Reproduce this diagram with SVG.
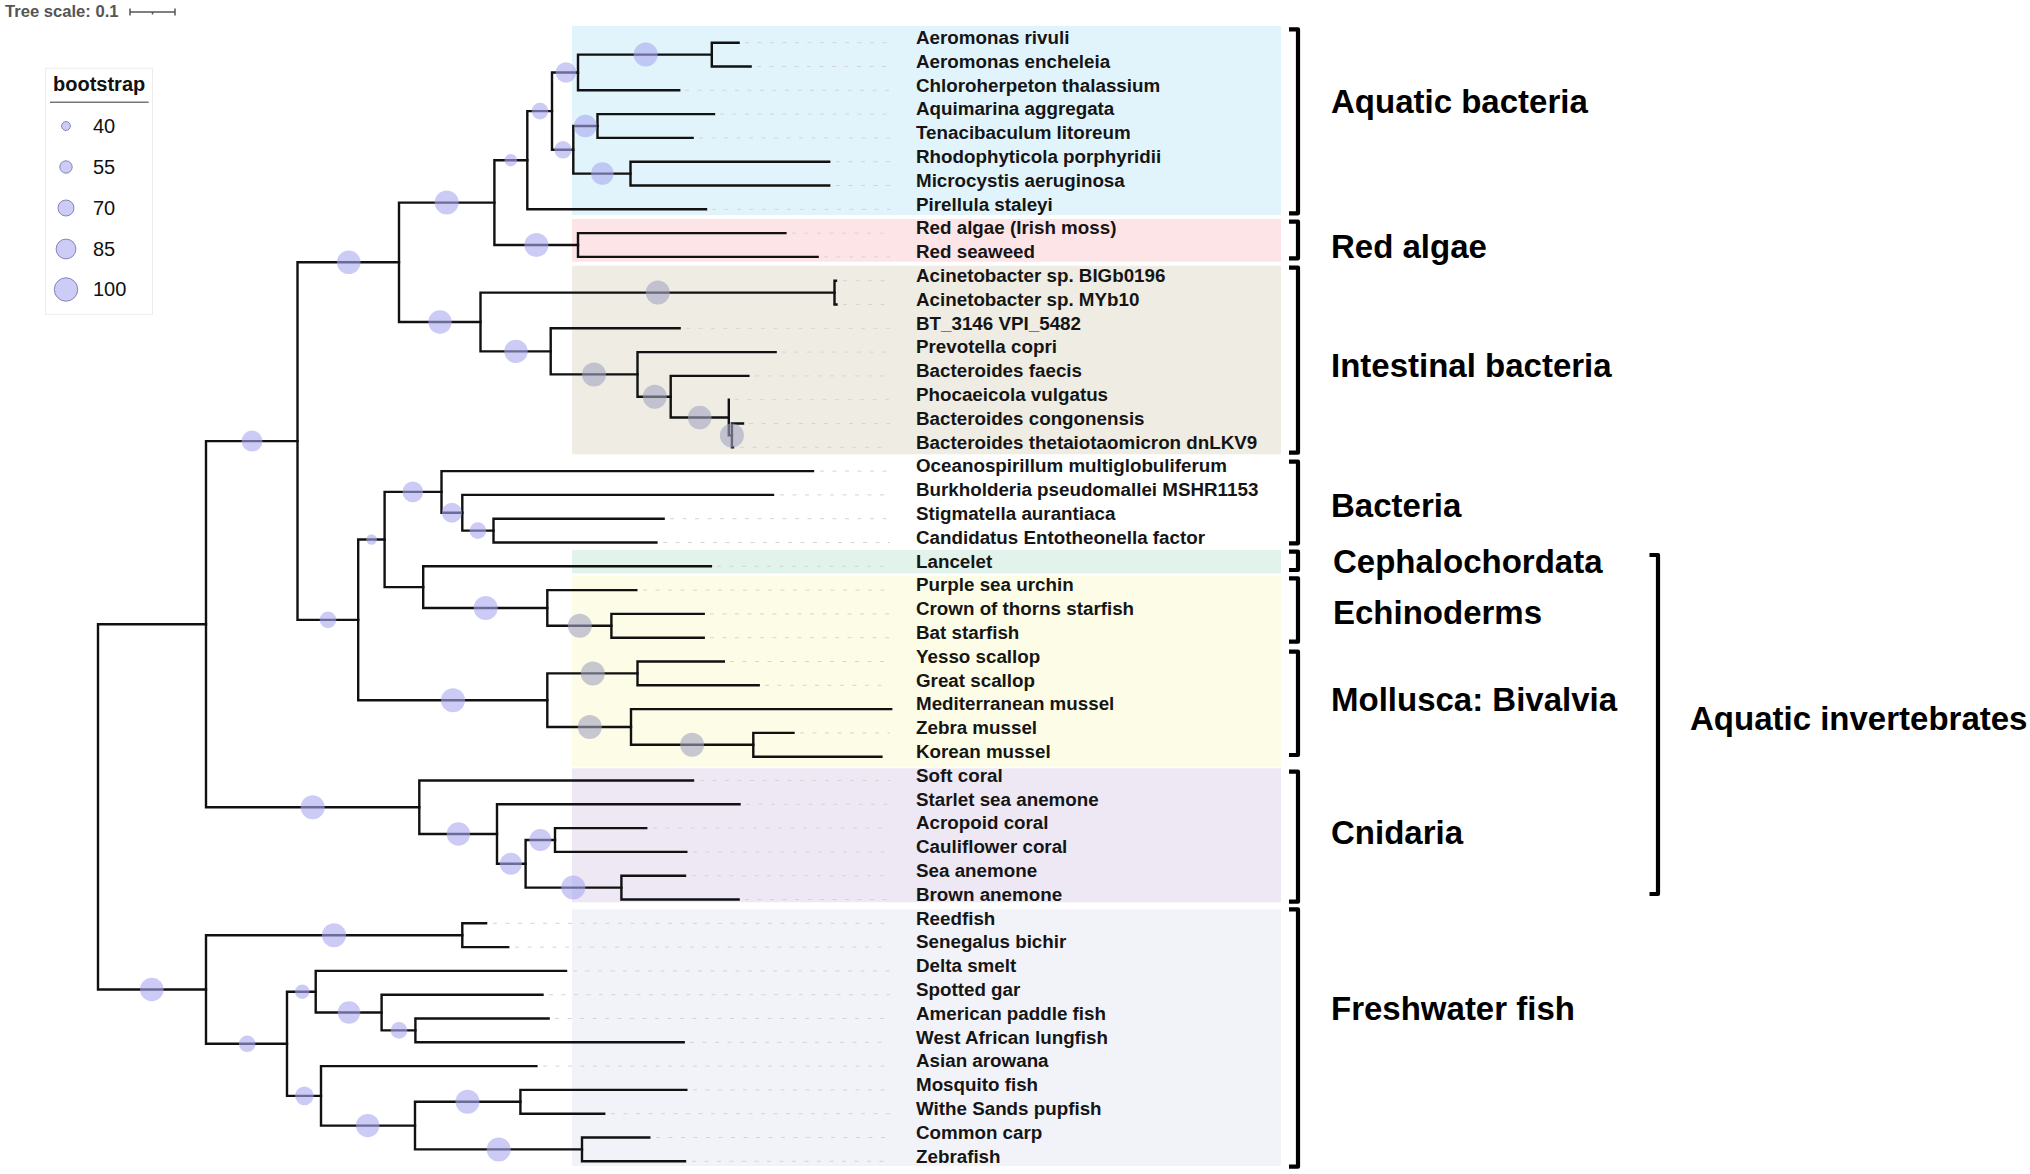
<svg xmlns="http://www.w3.org/2000/svg" width="2030" height="1174" viewBox="0 0 2030 1174">
<style>
text{font-family:"Liberation Sans",Arial,sans-serif}
.lf{font-size:18.8px;font-weight:bold;fill:#151515;transform:translate(0px,-1.2px)}
.gl{font-size:33px;font-weight:bold;fill:#000}
.gd{stroke:#d4d4d4;stroke-width:1;stroke-dasharray:4 8.5;fill:none}
.br{fill:none;stroke:#111;stroke-width:2.4;stroke-linecap:square}
.bk{fill:none;stroke:#000;stroke-width:4.2;stroke-linejoin:round}
.bb{fill:#a8a8f0;fill-opacity:.6}
.bg{fill:#a4a4c2;fill-opacity:.6}
.lc{fill:#ccccf6;stroke:#7a7aae;stroke-width:.9}
.lt{font-size:20px;fill:#111}
</style>
<rect width="2030" height="1174" fill="#fff"/>
<g id="header">
<text x="5" y="16.5" font-size="16.6" font-weight="bold" fill="#555">Tree scale: 0.1</text>
<path d="M130 12H175M130 8.5V15.5M175 8.5V15.5M152.5 12V14.5" stroke="#555" stroke-width="1.5" fill="none"/>
</g>
<g id="legend">
<rect x="45.5" y="68.3" width="107" height="246" fill="#fff" stroke="#ececec" stroke-width="1"/>
<text x="53" y="90.7" font-size="20" font-weight="bold" fill="#111">bootstrap</text>
<line x1="50" y1="102.3" x2="148.7" y2="102.3" stroke="#777" stroke-width="1.4"/>
<circle class="lc" cx="66" cy="126" r="4.4"/><text class="lt" x="93" y="132.5">40</text>
<circle class="lc" cx="66" cy="167" r="6.2"/><text class="lt" x="93" y="173.5">55</text>
<circle class="lc" cx="66" cy="208" r="8"/><text class="lt" x="93" y="214.5">70</text>
<circle class="lc" cx="66" cy="249" r="9.9"/><text class="lt" x="93" y="255.5">85</text>
<circle class="lc" cx="66" cy="289.5" r="11.7"/><text class="lt" x="93" y="296">100</text>
</g>
<g id="bands">
<rect x="572" y="26" width="709" height="189" fill="#e1f4fb"/>
<rect x="572" y="219" width="709" height="42.7" fill="#fde4e6"/>
<rect x="572" y="265.7" width="709" height="188.6" fill="#efede3"/>
<rect x="572" y="550" width="709" height="23.3" fill="#e1f3ea"/>
<rect x="572" y="575.7" width="709" height="191" fill="#fdfde7"/>
<rect x="572" y="768.3" width="709" height="134" fill="#ede8f4"/>
<rect x="572" y="909.3" width="709" height="256.7" fill="#f2f3f9"/>
</g>
<g id="leaves">
<g id="leaf-0"><line class="gd" x1="745" y1="42.7" x2="890" y2="42.7"/><text class="lf" x="916" y="45.2">Aeromonas rivuli</text></g>
<g id="leaf-1"><line class="gd" x1="757" y1="66.5" x2="890" y2="66.5"/><text class="lf" x="916" y="69">Aeromonas encheleia</text></g>
<g id="leaf-2"><line class="gd" x1="685" y1="90.3" x2="890" y2="90.3"/><text class="lf" x="916" y="92.8">Chloroherpeton thalassium</text></g>
<g id="leaf-3"><line class="gd" x1="720" y1="114.1" x2="890" y2="114.1"/><text class="lf" x="916" y="116.6">Aquimarina aggregata</text></g>
<g id="leaf-4"><line class="gd" x1="699" y1="137.9" x2="890" y2="137.9"/><text class="lf" x="916" y="140.4">Tenacibaculum litoreum</text></g>
<g id="leaf-5"><line class="gd" x1="836" y1="161.7" x2="890" y2="161.7"/><text class="lf" x="916" y="164.2">Rhodophyticola porphyridii</text></g>
<g id="leaf-6"><line class="gd" x1="836" y1="185.5" x2="890" y2="185.5"/><text class="lf" x="916" y="188">Microcystis aeruginosa</text></g>
<g id="leaf-7"><line class="gd" x1="712" y1="209.3" x2="890" y2="209.3"/><text class="lf" x="916" y="211.8">Pirellula staleyi</text></g>
<g id="leaf-8"><line class="gd" x1="792" y1="233.1" x2="890" y2="233.1"/><text class="lf" x="916" y="235.6">Red algae (Irish moss)</text></g>
<g id="leaf-9"><line class="gd" x1="824" y1="256.9" x2="890" y2="256.9"/><text class="lf" x="916" y="259.4">Red seaweed</text></g>
<g id="leaf-10"><line class="gd" x1="843" y1="280.7" x2="890" y2="280.7"/><text class="lf" x="916" y="283.2">Acinetobacter sp. BIGb0196</text></g>
<g id="leaf-11"><line class="gd" x1="843" y1="304.5" x2="890" y2="304.5"/><text class="lf" x="916" y="307">Acinetobacter sp. MYb10</text></g>
<g id="leaf-12"><line class="gd" x1="686" y1="328.3" x2="890" y2="328.3"/><text class="lf" x="916" y="330.8">BT_3146 VPI_5482</text></g>
<g id="leaf-13"><line class="gd" x1="782" y1="352.1" x2="890" y2="352.1"/><text class="lf" x="916" y="354.6">Prevotella copri</text></g>
<g id="leaf-14"><line class="gd" x1="755" y1="375.9" x2="890" y2="375.9"/><text class="lf" x="916" y="378.4">Bacteroides faecis</text></g>
<g id="leaf-15"><line class="gd" x1="735" y1="399.7" x2="890" y2="399.7"/><text class="lf" x="916" y="402.2">Phocaeicola vulgatus</text></g>
<g id="leaf-16"><line class="gd" x1="749" y1="423.5" x2="890" y2="423.5"/><text class="lf" x="916" y="426">Bacteroides congonensis</text></g>
<g id="leaf-17"><line class="gd" x1="740" y1="447.3" x2="890" y2="447.3"/><text class="lf" x="916" y="449.8">Bacteroides thetaiotaomicron dnLKV9</text></g>
<g id="leaf-18"><line class="gd" x1="820" y1="471.1" x2="890" y2="471.1"/><text class="lf" x="916" y="473.6">Oceanospirillum multiglobuliferum</text></g>
<g id="leaf-19"><line class="gd" x1="780" y1="494.9" x2="890" y2="494.9"/><text class="lf" x="916" y="497.4">Burkholderia pseudomallei MSHR1153</text></g>
<g id="leaf-20"><line class="gd" x1="670" y1="518.7" x2="890" y2="518.7"/><text class="lf" x="916" y="521.2">Stigmatella aurantiaca</text></g>
<g id="leaf-21"><line class="gd" x1="663" y1="542.5" x2="890" y2="542.5"/><text class="lf" x="916" y="545">Candidatus Entotheonella factor</text></g>
<g id="leaf-22"><line class="gd" x1="717" y1="566.3" x2="890" y2="566.3"/><text class="lf" x="916" y="568.8">Lancelet</text></g>
<g id="leaf-23"><line class="gd" x1="643" y1="590.1" x2="890" y2="590.1"/><text class="lf" x="916" y="592.6">Purple sea urchin</text></g>
<g id="leaf-24"><line class="gd" x1="710" y1="613.9" x2="890" y2="613.9"/><text class="lf" x="916" y="616.4">Crown of thorns starfish</text></g>
<g id="leaf-25"><line class="gd" x1="710" y1="637.7" x2="890" y2="637.7"/><text class="lf" x="916" y="640.2">Bat starfish</text></g>
<g id="leaf-26"><line class="gd" x1="730" y1="661.5" x2="890" y2="661.5"/><text class="lf" x="916" y="664">Yesso scallop</text></g>
<g id="leaf-27"><line class="gd" x1="765" y1="685.3" x2="890" y2="685.3"/><text class="lf" x="916" y="687.8">Great scallop</text></g>
<g id="leaf-28"><text class="lf" x="916" y="711.6">Mediterranean mussel</text></g>
<g id="leaf-29"><line class="gd" x1="800" y1="732.9" x2="890" y2="732.9"/><text class="lf" x="916" y="735.4">Zebra mussel</text></g>
<g id="leaf-30"><text class="lf" x="916" y="759.2">Korean mussel</text></g>
<g id="leaf-31"><line class="gd" x1="700" y1="780.5" x2="890" y2="780.5"/><text class="lf" x="916" y="783">Soft coral</text></g>
<g id="leaf-32"><line class="gd" x1="746" y1="804.3" x2="890" y2="804.3"/><text class="lf" x="916" y="806.8">Starlet sea anemone</text></g>
<g id="leaf-33"><line class="gd" x1="653" y1="828.1" x2="890" y2="828.1"/><text class="lf" x="916" y="830.6">Acropoid coral</text></g>
<g id="leaf-34"><line class="gd" x1="693" y1="851.9" x2="890" y2="851.9"/><text class="lf" x="916" y="854.4">Cauliflower coral</text></g>
<g id="leaf-35"><line class="gd" x1="692" y1="875.7" x2="890" y2="875.7"/><text class="lf" x="916" y="878.2">Sea anemone</text></g>
<g id="leaf-36"><line class="gd" x1="745" y1="899.5" x2="890" y2="899.5"/><text class="lf" x="916" y="902">Brown anemone</text></g>
<g id="leaf-37"><line class="gd" x1="493" y1="923.3" x2="890" y2="923.3"/><text class="lf" x="916" y="925.8">Reedfish</text></g>
<g id="leaf-38"><line class="gd" x1="515" y1="947.1" x2="890" y2="947.1"/><text class="lf" x="916" y="949.6">Senegalus bichir</text></g>
<g id="leaf-39"><line class="gd" x1="573" y1="970.9" x2="890" y2="970.9"/><text class="lf" x="916" y="973.4">Delta smelt</text></g>
<g id="leaf-40"><line class="gd" x1="549" y1="994.7" x2="890" y2="994.7"/><text class="lf" x="916" y="997.2">Spotted gar</text></g>
<g id="leaf-41"><line class="gd" x1="555" y1="1018.5" x2="890" y2="1018.5"/><text class="lf" x="916" y="1021">American paddle fish</text></g>
<g id="leaf-42"><line class="gd" x1="690" y1="1042.3" x2="890" y2="1042.3"/><text class="lf" x="916" y="1044.8">West African lungfish</text></g>
<g id="leaf-43"><line class="gd" x1="543" y1="1066.1" x2="890" y2="1066.1"/><text class="lf" x="916" y="1068.6">Asian arowana</text></g>
<g id="leaf-44"><line class="gd" x1="693" y1="1089.9" x2="890" y2="1089.9"/><text class="lf" x="916" y="1092.4">Mosquito fish</text></g>
<g id="leaf-45"><line class="gd" x1="611" y1="1113.7" x2="890" y2="1113.7"/><text class="lf" x="916" y="1116.2">Withe Sands pupfish</text></g>
<g id="leaf-46"><line class="gd" x1="656" y1="1137.5" x2="890" y2="1137.5"/><text class="lf" x="916" y="1140">Common carp</text></g>
<g id="leaf-47"><line class="gd" x1="692" y1="1161.3" x2="890" y2="1161.3"/><text class="lf" x="916" y="1163.8">Zebrafish</text></g>
</g>
<g id="connectors" class="br">
<path d="M206 624.2H98V989.5H206"/>
<path d="M297.5 441.1H206V807.3H419.3"/>
<path d="M399 262.3H297.5V619.85H358.2"/>
<path d="M494.4 202.6H399V321.98H480.5"/>
<path d="M527.3 160.2H494.4V245H578"/>
<path d="M552 111.1H527.3V209.3H706"/>
<path d="M578 72.45H552V149.8H573.3"/>
<path d="M711.8 54.6H578V90.3H679.2"/>
<path d="M738.6 42.7H711.8V66.5H750.6"/>
<path d="M597.5 126H573.3V173.6H630.5"/>
<path d="M714 114.1H597.5V137.9H692.6"/>
<path d="M829.2 161.7H630.5V185.5H829.2"/>
<path d="M785.4 233.1H578V256.9H817.6"/>
<path d="M834.5 292.6H480.5V351.35H550.7"/>
<path d="M836 280.7H834.5V304.5H836.5"/>
<path d="M679.6 328.3H550.7V374.4H637.5"/>
<path d="M775.6 352.1H637.5V396.7H670.7"/>
<path d="M748.4 375.9H670.7V417.55H728.8"/>
<path d="M728.8 399.7V435.4H731.9"/>
<path d="M743 423.5H731.9V447.3H733"/>
<path d="M384.6 539.5H358.2V700.2H547.3"/>
<path d="M441.5 491.9H384.6V587.1H423.2"/>
<path d="M813 471.1H441.5V512.75H462.3"/>
<path d="M773 494.9H462.3V530.6H493.5"/>
<path d="M663.6 518.7H493.5V542.5H656.4"/>
<path d="M710.9 566.3H423.2V607.95H547.3"/>
<path d="M636.3 590.1H547.3V625.8H611.4"/>
<path d="M703.7 613.9H611.4V637.7H703.7"/>
<path d="M637.5 673.4H547.3V726.95H631"/>
<path d="M723.8 661.5H637.5V685.3H758.7"/>
<path d="M891.2 709.1H631V744.8H753.3"/>
<path d="M793.5 732.9H753.3V756.7H881.4"/>
<path d="M693 780.5H419.3V834.05H497"/>
<path d="M739.5 804.3H497V863.8H525.6"/>
<path d="M555 840H525.6V887.6H621.4"/>
<path d="M646.2 828.1H555V851.9H686.3"/>
<path d="M685 875.7H621.4V899.5H738.6"/>
<path d="M462.3 935.2H206V1043.8H287"/>
<path d="M486.1 923.3H462.3V947.1H508.2"/>
<path d="M315.7 991.7H287V1095.85H321"/>
<path d="M566 970.9H315.7V1012.55H381.6"/>
<path d="M542.5 994.7H381.6V1030.4H415.4"/>
<path d="M548.6 1018.5H415.4V1042.3H683.7"/>
<path d="M536.4 1066.1H321V1125.6H415"/>
<path d="M520.4 1101.8H415V1149.4H582"/>
<path d="M686.3 1089.9H520.4V1113.7H604.2"/>
<path d="M649.3 1137.5H582V1161.3H685"/>
</g>
<g id="bootstrap-symbols">
<circle class="bb" cx="446.7" cy="202.6" r="12"/>
<circle class="bb" cx="440" cy="322" r="11.7"/>
<circle class="bb" cx="510.8" cy="160.2" r="6.2"/>
<circle class="bb" cx="536.4" cy="245" r="12"/>
<circle class="bb" cx="540" cy="111.1" r="8.3"/>
<circle class="bb" cx="566" cy="72.45" r="10.3"/>
<circle class="bb" cx="563" cy="149.8" r="8.7"/>
<circle class="bb" cx="645.7" cy="54.6" r="12"/>
<circle class="bb" cx="585.4" cy="126" r="11.3"/>
<circle class="bb" cx="602.4" cy="173.6" r="11.3"/>
<circle class="bg" cx="657.8" cy="292.6" r="12"/>
<circle class="bb" cx="516" cy="351.35" r="11.7"/>
<circle class="bg" cx="594" cy="374.4" r="12"/>
<circle class="bg" cx="654.8" cy="396.7" r="12"/>
<circle class="bg" cx="699.7" cy="417.55" r="11.8"/>
<circle class="bg" cx="731.9" cy="435.4" r="12"/>
<circle class="bb" cx="252" cy="441.1" r="10.5"/>
<circle class="bb" cx="348.7" cy="262.3" r="11.8"/>
<circle class="bb" cx="328" cy="619.85" r="8.3"/>
<circle class="bb" cx="453" cy="700.2" r="12"/>
<circle class="bb" cx="371.6" cy="539.5" r="5.3"/>
<circle class="bb" cx="412.8" cy="491.9" r="10.3"/>
<circle class="bb" cx="451.9" cy="512.75" r="10"/>
<circle class="bb" cx="477.9" cy="530.6" r="8.3"/>
<circle class="bb" cx="485.7" cy="607.95" r="12"/>
<circle class="bg" cx="579.8" cy="625.8" r="12"/>
<circle class="bg" cx="592.8" cy="673.4" r="12"/>
<circle class="bg" cx="589.8" cy="726.95" r="12"/>
<circle class="bg" cx="692.1" cy="744.8" r="12"/>
<circle class="bb" cx="312.7" cy="807.3" r="12"/>
<circle class="bb" cx="458.4" cy="834.05" r="11.7"/>
<circle class="bb" cx="510.8" cy="863.8" r="11"/>
<circle class="bb" cx="540.3" cy="840" r="11"/>
<circle class="bb" cx="573.3" cy="887.6" r="12"/>
<circle class="bb" cx="151.8" cy="989.5" r="11.8"/>
<circle class="bb" cx="334" cy="935.2" r="12"/>
<circle class="bb" cx="247.2" cy="1043.8" r="8.3"/>
<circle class="bb" cx="302.3" cy="991.7" r="7.2"/>
<circle class="bb" cx="304.4" cy="1095.85" r="9.3"/>
<circle class="bb" cx="349" cy="1012.55" r="11.3"/>
<circle class="bb" cx="399" cy="1030.4" r="8.3"/>
<circle class="bb" cx="367.7" cy="1125.6" r="11.7"/>
<circle class="bb" cx="467.5" cy="1101.8" r="12"/>
<circle class="bb" cx="498.7" cy="1149.4" r="12"/>
</g>
<g id="groups">
<g id="grp-aquatic-bacteria"><path class="bk" d="M1289 29.3H1298V213.3H1289"/><text class="gl" x="1331" y="113.3">Aquatic bacteria</text></g>
<g id="grp-red-algae"><path class="bk" d="M1289 221.7H1298V258.3H1289"/><text class="gl" x="1331" y="257.7">Red algae</text></g>
<g id="grp-intestinal"><path class="bk" d="M1289 267.7H1298V452.7H1289"/><text class="gl" x="1331" y="377.3">Intestinal bacteria</text></g>
<g id="grp-bacteria"><path class="bk" d="M1289 461.7H1298V543.3H1289"/><text class="gl" x="1331" y="516.7">Bacteria</text></g>
<g id="grp-cephalochordata"><path class="bk" d="M1289 551.7H1298V570H1289"/><text class="gl" x="1333" y="573.3">Cephalochordata</text></g>
<g id="grp-echinoderms"><path class="bk" d="M1289 578.3H1298V641.7H1289"/><text class="gl" x="1333" y="624.3">Echinoderms</text></g>
<g id="grp-mollusca"><path class="bk" d="M1289 651.7H1298V755H1289"/><text class="gl" x="1331" y="711">Mollusca: Bivalvia</text></g>
<g id="grp-cnidaria"><path class="bk" d="M1289 771.7H1298V901.7H1289"/><text class="gl" x="1331" y="844.3">Cnidaria</text></g>
<g id="grp-fish"><path class="bk" d="M1289 909.3H1298V1166.7H1289"/><text class="gl" x="1331" y="1020">Freshwater fish</text></g>
<g id="grp-invertebrates"><path class="bk" d="M1649.5 555H1658V894H1649.5"/><text class="gl" x="1690" y="730">Aquatic invertebrates</text></g>
</g>
</svg>
